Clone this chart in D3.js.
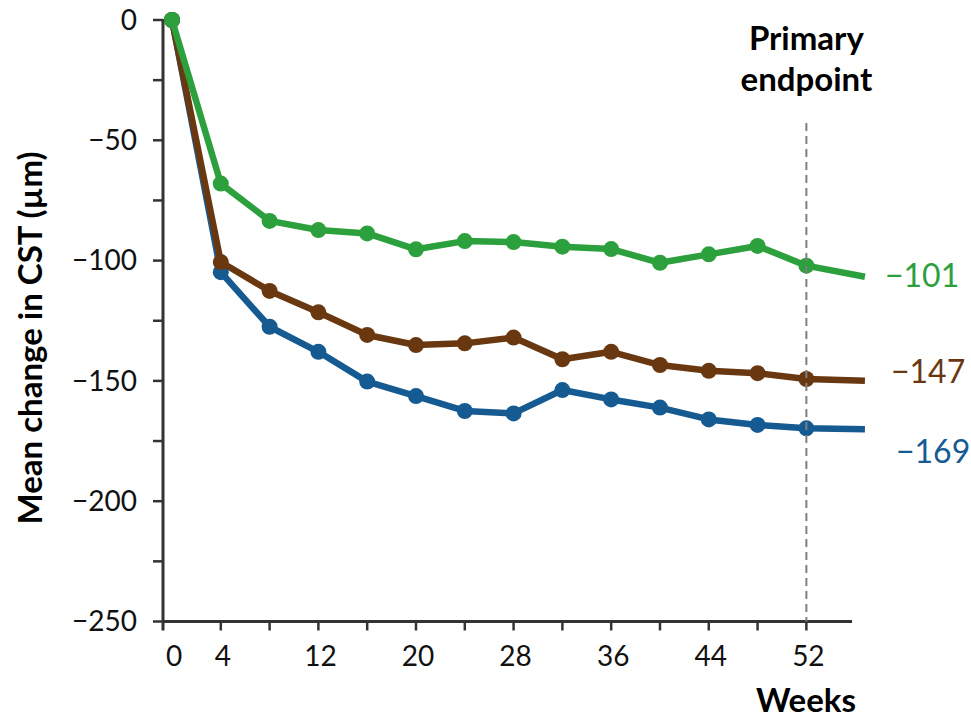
<!DOCTYPE html>
<html>
<head>
<meta charset="utf-8">
<script src="https://cdn.jsdelivr.net/npm/d3@7"></script>
<style>
  html, body { margin: 0; padding: 0; background: #fff; }
  svg { display: block; font-family: Lato, "Open Sans", sans-serif; }
</style>
</head>
<body>
<svg id="chart" width="971" height="721"></svg>
<script>
// ---- data ----
const weeks = [0, 4, 8, 12, 16, 20, 24, 28, 32, 36, 40, 44, 48, 52];
const tailWeek = 56.8; // lines continue past the last marker
const greenValues = [0, -68, -83.5, -87.3, -88.7, -95.3, -91.9, -92.3, -94.2, -95.2, -100.9, -97.4, -93.9, -102.1];
const greenTail = -106.7;
const brownValues = [0, -100.6, -112.6, -121.5, -130.9, -135.1, -134.4, -132.0, -141.0, -137.9, -143.4, -145.8, -146.8, -149.2];
const brownTail = -149.9;
const blueValues = [0, -104.8, -127.5, -137.9, -150.3, -156.3, -162.5, -163.5, -153.8, -157.7, -161.1, -166.0, -168.3, -169.7];
const blueTail = -170.1;
const endLabels = ["\u2212101", "\u2212147", "\u2212169"];
const yTickValues = [0, -25, -50, -75, -100, -125, -150, -175, -200, -225, -250];
const yTickLabels = ["0", "", "\u221250", "", "\u2212100", "", "\u2212150", "", "\u2212200", "", "\u2212250"];
const xTickValues = [4, 8, 12, 16, 20, 24, 28, 32, 36, 40, 44, 48, 52];
const xLabelValues = [0, 4, 12, 20, 28, 36, 44, 52];
const primaryEndpointWeek = 52;

// ---- layout ----
const colors = { green: "#2ca03c", brown: "#6a3810", blue: "#165a92" };
const svg = d3.select("#chart");
const x = d3.scaleLinear().domain([-0.738, 55.74]).range([163, 852]);
const y = d3.scaleLinear().domain([0, -250]).range([20, 621.5]);
const axisColor = "#333";
const tickFont = 28;
const titleFont = 33;

// y ticks
const gy = svg.append("g");
gy.selectAll("line.tick").data(yTickValues).join("line")
  .attr("x1", 153).attr("x2", 163)
  .attr("y1", d => y(d)).attr("y2", d => y(d))
  .attr("stroke", axisColor).attr("stroke-width", 2.5);
gy.selectAll("text").data(yTickValues).join("text")
  .attr("x", 137).attr("y", d => y(d)).attr("dy", "0.35em")
  .attr("text-anchor", "end").attr("font-size", tickFont).attr("fill", "#111")
  .text((d, i) => yTickLabels[i]);
// y axis line
svg.append("line").attr("x1", 163).attr("x2", 163)
  .attr("y1", y(0) - 1).attr("y2", y(-250) + 9)
  .attr("stroke", axisColor).attr("stroke-width", 3);

// x axis
svg.append("line").attr("x1", 163).attr("x2", x.range()[1])
  .attr("y1", y(-250)).attr("y2", y(-250))
  .attr("stroke", axisColor).attr("stroke-width", 3);
svg.append("g").selectAll("line").data(xTickValues).join("line")
  .attr("x1", d => x(d)).attr("x2", d => x(d))
  .attr("y1", y(-250)).attr("y2", y(-250) + 9)
  .attr("stroke", axisColor).attr("stroke-width", 2.5);
svg.append("g").selectAll("text").data(xLabelValues).join("text")
  .attr("x", d => x(d) + 2).attr("y", 666)
  .attr("text-anchor", "middle").attr("font-size", tickFont).attr("fill", "#111")
  .text(d => d);

// axis titles
svg.append("text").attr("transform", "translate(42,338) rotate(-90)")
  .attr("text-anchor", "middle").attr("font-size", titleFont).attr("font-weight", 700)
  .attr("fill", "#000").text("Mean change in CST (\u00b5m)");
svg.append("text").attr("x", 856).attr("y", 712).attr("text-anchor", "end")
  .attr("font-size", titleFont).attr("font-weight", 700).attr("fill", "#000").text("Weeks");
svg.append("text").attr("x", x(primaryEndpointWeek)).attr("y", 50).attr("text-anchor", "middle")
  .attr("font-size", titleFont).attr("font-weight", 700).attr("fill", "#000").text("Primary");
svg.append("text").attr("x", x(primaryEndpointWeek)).attr("y", 91).attr("text-anchor", "middle")
  .attr("font-size", titleFont).attr("font-weight", 700).attr("fill", "#000").text("endpoint");

// series
const series = [
  { name: "blue", values: blueValues, tail: blueTail, color: colors.blue },
  { name: "brown", values: brownValues, tail: brownTail, color: colors.brown },
  { name: "green", values: greenValues, tail: greenTail, color: colors.green }
];
const line = d3.line().x(d => x(d[0])).y(d => y(d[1]));
series.forEach(s => {
  const pts = weeks.map((w, i) => [w, s.values[i]]);
  svg.append("path").datum(pts.concat([[tailWeek, s.tail]]))
    .attr("d", line).attr("fill", "none").attr("stroke", s.color)
    .attr("stroke-width", 6.5).attr("stroke-linejoin", "round");
  svg.append("g").selectAll("circle").data(pts).join("circle")
    .attr("cx", d => x(d[0])).attr("cy", d => y(d[1])).attr("r", 8)
    .attr("fill", s.color);
});

// end labels
const labelLayout = [
  { x: 885, v: -106.5, color: colors.green },
  { x: 891, v: -146.3, color: colors.brown },
  { x: 896, v: -179.3, color: colors.blue }
];
svg.append("g").selectAll("text").data(labelLayout).join("text")
  .attr("x", d => d.x).attr("y", d => y(d.v)).attr("dy", "0.35em")
  .attr("font-size", 32).attr("fill", d => d.color)
  .text((d, i) => endLabels[i]);

// primary endpoint dashed line
svg.append("line").attr("x1", x(primaryEndpointWeek)).attr("x2", x(primaryEndpointWeek))
  .attr("y1", 123).attr("y2", y(-250))
  .attr("stroke", "#7f7f7f").attr("stroke-width", 2).attr("stroke-dasharray", "8,5");
</script>
</body>
</html>
